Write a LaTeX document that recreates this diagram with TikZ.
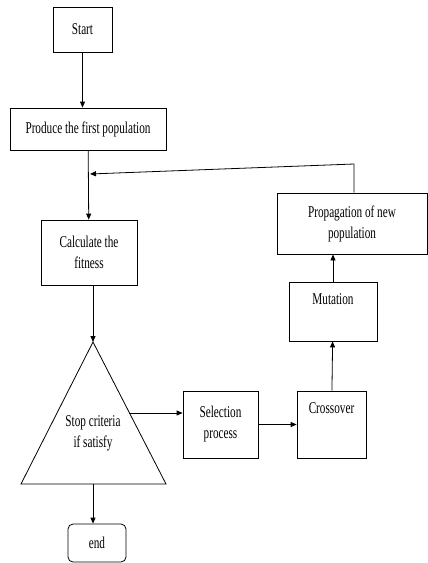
\documentclass[tikz,border=0pt]{standalone}
\usepackage{fontspec}
\setmainfont{Liberation Serif}[FakeStretch=0.68]
\usetikzlibrary{arrows.meta}

\begin{document}
\begin{tikzpicture}[x=1pt,y=-1pt,font=\fontsize{16.5}{21}\selectfont,
  blk/.style={draw,line width=0.8pt,align=center,inner sep=0pt},
  toplbl/.style={anchor=north,inner sep=0pt,yshift=-12pt},
  arr/.style={line width=0.8pt,-{Triangle[length=6pt,width=5pt]}}]
\useasboundingbox (0,0) rectangle (428,563);

\node[blk,minimum width=59pt,minimum height=45pt] (start) at (82.5,29.5) {Start};
\node[blk,minimum width=156pt,minimum height=42pt] (produce) at (88,129) {Produce the first population};
\node[blk,minimum width=96pt,minimum height=65pt] (calc) at (89,252.5) {Calculate the\\fitness};

\node[blk,minimum width=150pt,minimum height=61pt] (prop) at (352,223.5) {Propagation of new\\population};
\node[blk,minimum width=88pt,minimum height=59pt,label={[toplbl]north:Mutation}] (mut) at (333,311.5) {};
\node[blk,minimum width=69pt,minimum height=67pt,label={[toplbl]north:Crossover}] (cross) at (331.5,424.5) {};
\node[blk,minimum width=75pt,minimum height=67pt] (sel) at (220.5,424.5) {Selection\\process};

% stop test
\coordinate (apex) at (93,342);
\coordinate (bl) at (21,484);
\coordinate (br) at (166,484);
\draw[line width=0.8pt] (apex) -- (br) -- (bl) -- cycle;
\node[align=center,inner sep=0pt] (stop) at (93,433) {Stop criteria\\if satisfy};
\coordinate (exit) at (129,413);
\coordinate (base) at (93,484);

\node[blk,rounded corners=5pt,minimum width=58pt,minimum height=38pt] (end) at (97,543) {end};

\draw[arr] (start) -- (start |- produce.north);
\draw[arr] (produce) -- (calc);
\draw[arr] (calc.south -| apex) -- (apex);
\draw[arr] (exit) -- (exit -| sel.west);
\draw[arr] (sel.east) -- (cross.west);
\draw[arr] (cross) -- (mut);
\draw[arr] (mut.north) -- (mut.north |- prop.south);
\draw[arr] (base) -- (base |- end.north);

% loop back
\coordinate (turn) at (354,164);
\coordinate (join) at (90,174);
\draw[arr] (turn |- prop.north) -- (turn) -- (join);
\end{tikzpicture}
\end{document}
